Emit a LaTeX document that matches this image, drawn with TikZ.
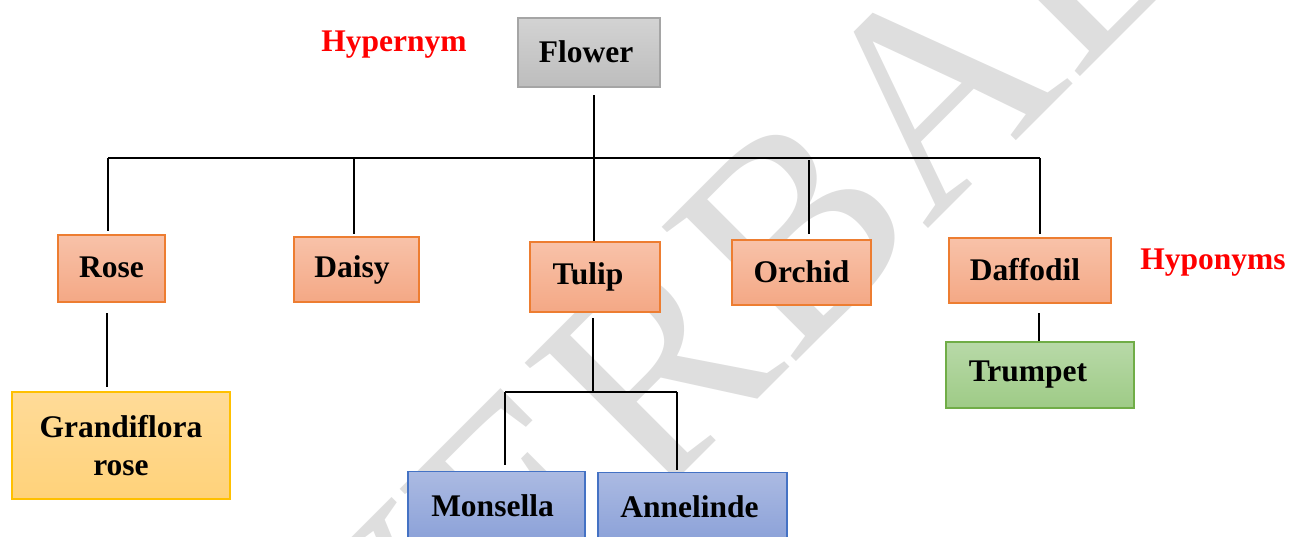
\documentclass[tikz,border=0pt]{standalone}
\usepackage{fontspec}
\setmainfont{Liberation Serif}
\definecolor{grayTop}{HTML}{D3D3D3}
\definecolor{grayBot}{HTML}{BDBDBD}
\definecolor{grayLine}{HTML}{A5A5A5}
\definecolor{orTop}{HTML}{F8C2A9}
\definecolor{orBot}{HTML}{F4A885}
\definecolor{orLine}{HTML}{ED7D31}
\definecolor{yeTop}{HTML}{FFDB98}
\definecolor{yeBot}{HTML}{FFD27A}
\definecolor{yeLine}{HTML}{FFC000}
\definecolor{blTop}{HTML}{ABBAE2}
\definecolor{blBot}{HTML}{8BA1D8}
\definecolor{blLine}{HTML}{4472C4}
\definecolor{grTop}{HTML}{B8D9A8}
\definecolor{grBot}{HTML}{9ECB86}
\definecolor{grLine}{HTML}{70AD47}
\definecolor{mark}{HTML}{DEDEDE}
\begin{document}
\begin{tikzpicture}[x=1pt,y=-1pt,
  box/.style={line width=1.2pt, inner sep=0pt, align=center,
    font=\fontsize{31.5}{38}\selectfont\bfseries},
  graybox/.style={box, draw=grayLine, top color=grayTop, bottom color=grayBot},
  orbox/.style={box, draw=orLine, top color=orTop, bottom color=orBot},
  yebox/.style={box, draw=yeLine, top color=yeTop, bottom color=yeBot},
  blbox/.style={box, draw=blLine, top color=blTop, bottom color=blBot},
  grbox/.style={box, draw=grLine, top color=grTop, bottom color=grBot},
  tag/.style={text=red, font=\fontsize{31.5}{38}\selectfont\bfseries, inner sep=0pt},
  wire/.style={line width=2.5pt, black}]
\useasboundingbox (0,0) rectangle (1289,536);

% background watermark
\node[text=mark, rotate=45, inner sep=0pt,
  font=\fontsize{290}{300}\selectfont] (wm) at (724,301) {VERBAL};

% root
\node[graybox, minimum width=142pt, minimum height=69pt] (flower) at (589,52.5) {\hspace*{-6pt}\raisebox{2pt}{Flower}};
\node[tag] (hyper) at (394,45) {Hypernym};

% first level
\node[orbox, minimum width=107pt, minimum height=67pt] (rose) at (111.5,268.5) {\raisebox{2pt}{Rose}};
\node[orbox, minimum width=125pt, minimum height=65pt] (daisy) at (356.5,269.5) {\hspace*{-9pt}\raisebox{2pt}{Daisy}};
\node[orbox, minimum width=130pt, minimum height=70pt] (tulip) at (595,277) {\hspace*{-14pt}\raisebox{2pt}{Tulip}};
\node[orbox, minimum width=139pt, minimum height=65pt] (orchid) at (801.5,272.5) {\raisebox{2pt}{Orchid}};
\node[orbox, minimum width=162pt, minimum height=65pt] (daffodil) at (1030,270.5) {\hspace*{-10pt}\raisebox{2pt}{Daffodil}};
\node[tag] (hypo) at (1213,263) {Hyponyms};

% second level
\node[yebox, minimum width=218pt, minimum height=107pt] (grandi) at (121,445.5) {Grandiflora\\rose};
\node[blbox, minimum width=177pt, minimum height=70pt, anchor=north] (mons) at (496.5,471) {\hspace*{-8pt}\raisebox{3pt}{Monsella}};
\node[blbox, minimum width=189pt, minimum height=70pt, anchor=north] (anne) at (692.5,472) {\hspace*{-6pt}\raisebox{3pt}{Annelinde}};
\node[grbox, minimum width=188pt, minimum height=66pt] (trump) at (1040,375) {\hspace*{-24pt}Trumpet};

% connector points
\coordinate (rootEnd) at (594,95);
\coordinate (hub) at (594,158);
\coordinate (busL) at (108,158);
\coordinate (busR) at (1040,158);
\coordinate (dDaisy) at (354,158);
\coordinate (dOrchid) at (809,160);
\coordinate (roseOut) at (107,313);
\coordinate (tulipOut) at (593,318);
\coordinate (tulipHub) at (593,392);
\coordinate (tBusL) at (505,392);
\coordinate (tBusR) at (677,392);
\coordinate (daffOut) at (1039,313);

% connectors
\draw[wire] (rootEnd) -- (hub);
\draw[wire] (busL) -- (busR);
\draw[wire, shorten >=3pt] (busL) -- (busL |- rose.north);
\draw[wire, shorten >=2pt] (dDaisy) -- (dDaisy |- daisy.north);
\draw[wire] (hub) -- (hub |- tulip.north);
\draw[wire, shorten >=5pt] (dOrchid) -- (dOrchid |- orchid.north);
\draw[wire, shorten >=3pt] (busR) -- (busR |- daffodil.north);
\draw[wire, shorten >=4pt] (roseOut) -- (roseOut |- grandi.north);
\draw[wire] (tulipOut) -- (tulipHub);
\draw[wire] (tBusL) -- (tBusR);
\draw[wire, shorten >=6pt] (tBusL) -- (tBusL |- mons.north);
\draw[wire, shorten >=2pt] (tBusR) -- (tBusR |- anne.north);
\draw[wire] (daffOut) -- (daffOut |- trump.north);
\end{tikzpicture}
\end{document}
